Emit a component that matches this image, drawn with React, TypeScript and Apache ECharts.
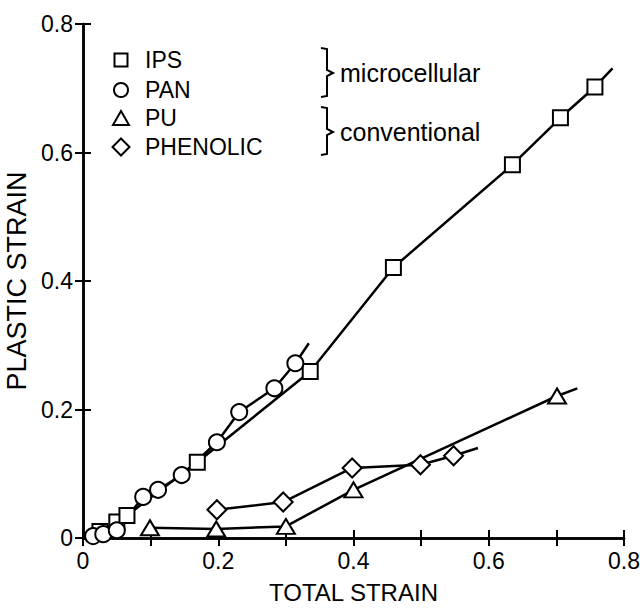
import React, { useEffect, useRef } from "react";
import * as echarts from "echarts";

// total strain, plastic strain
const ipsData: number[][] = [
  [0.025, 0.01], [0.05, 0.025], [0.065, 0.035], [0.169, 0.118], [0.336, 0.259],
  [0.459, 0.421], [0.635, 0.581], [0.706, 0.654], [0.757, 0.702],
];
const ipsTail: number[] = [0.783, 0.731];

const panData: number[][] = [
  [0.015, 0.003], [0.03, 0.006], [0.05, 0.012], [0.089, 0.064], [0.111, 0.075],
  [0.146, 0.098], [0.198, 0.149], [0.231, 0.196], [0.283, 0.233], [0.314, 0.272],
];
const panTail: number[] = [0.334, 0.303];

const puData: number[][] = [
  [0.099, 0.016], [0.197, 0.014], [0.3, 0.018], [0.4, 0.075], [0.701, 0.221],
];
const puTail: number[] = [0.731, 0.233];

const phenolicData: number[][] = [
  [0.198, 0.044], [0.296, 0.056], [0.398, 0.109], [0.499, 0.114], [0.548, 0.128],
];
const phenolicTail: number[] = [0.584, 0.14];

const legendNames = ["IPS", "PAN", "PU", "PHENOLIC"];
const groupNames = ["microcellular", "conventional"];
const axisMin = 0;
const axisMax = 0.8;

const FONT = "'Liberation Sans', 'DejaVu Sans', sans-serif";

function fmt(v: number): string {
  const t = Math.round(v * 10);
  if (t % 2 !== 0) return "";
  return t === 0 ? "0" : (t / 10).toFixed(1);
}

export default function App() {
  const ref = useRef<HTMLDivElement>(null);

  useEffect(() => {
    if (!ref.current) return;
    const chart = echarts.init(ref.current, null, { renderer: "svg" });

    const itemStyle = { color: "#fff", borderColor: "#000", borderWidth: 2 };
    const lineStyle = { color: "#000", width: 2.5 };
    const mk = (name: string, data: number[][], tail: number[], symbol: string, size: any) => ({
      type: "line",
      name,
      xAxisIndex: 0,
      yAxisIndex: 0,
      symbol,
      symbolSize: size,
      showAllSymbol: true,
      itemStyle,
      lineStyle,
      data: [...data.map((d) => ({ value: d })), { value: tail, symbol: "none" }],
    });

    const axisLine = { show: true, lineStyle: { color: "#000", width: 2.5 } };
    const axisTick = { show: true, inside: true, length: 8, lineStyle: { color: "#000", width: 2 } };
    const labelStyle = { color: "#000", fontSize: 23, fontFamily: FONT };

    const lx = 121;
    const ly = [60, 90, 118, 147];
    const sym = { fill: "#fff", stroke: "#000", lineWidth: 2 };

    chart.setOption({
      animation: false,
      backgroundColor: "#fff",
      grid: { left: 83, right: 16, top: 24, bottom: 71, containLabel: false, outerBoundsMode: "none" },
      xAxis: [
        {
          type: "value", min: axisMin, max: axisMax, interval: 0.1, position: "bottom",
          axisLine, axisTick, splitLine: { show: false },
          axisLabel: { ...labelStyle, margin: 11, formatter: fmt, showMinLabel: true, showMaxLabel: true },
          name: "TOTAL STRAIN", nameLocation: "middle", nameGap: 42,
          nameTextStyle: { color: "#000", fontSize: 24, fontFamily: FONT },
        },
        {
          type: "value", min: axisMin, max: axisMax, interval: 0.1, position: "top",
          axisLine, axisTick, splitLine: { show: false }, axisLabel: { show: false },
        },
      ],
      yAxis: [
        {
          type: "value", min: axisMin, max: axisMax, interval: 0.2, position: "left",
          axisLine, axisTick, splitLine: { show: false },
          axisLabel: { ...labelStyle, margin: 10, formatter: fmt },
          name: "PLASTIC STRAIN", nameLocation: "middle", nameGap: 49,
          nameTextStyle: { color: "#000", fontSize: 27, fontFamily: FONT },
        },
        {
          type: "value", min: axisMin, max: axisMax, interval: 0.2, position: "right",
          axisLine, axisTick, splitLine: { show: false }, axisLabel: { show: false },
        },
      ],
      series: [
        mk(legendNames[0], ipsData, ipsTail, "rect", 15),
        mk(legendNames[1], panData, panTail, "circle", 16),
        mk(legendNames[2], puData, puTail, "triangle", [18, 15]),
        mk(legendNames[3], phenolicData, phenolicTail, "diamond", [19, 19]),
      ],
      graphic: [
        { type: "rect", shape: { x: lx - 6.5, y: ly[0] - 6.5, width: 13, height: 13 }, style: sym },
        { type: "circle", shape: { cx: lx, cy: ly[1], r: 7 }, style: sym },
        { type: "polygon", shape: { points: [[lx, ly[2] - 7], [lx + 8, ly[2] + 7], [lx - 8, ly[2] + 7]] }, style: sym },
        { type: "polygon", shape: { points: [[lx, ly[3] - 8.5], [lx + 8.5, ly[3]], [lx, ly[3] + 8.5], [lx - 8.5, ly[3]]] }, style: sym },
        ...legendNames.map((n, i) => ({
          type: "text", x: 145, y: ly[i],
          style: { text: n, fill: "#000", fontSize: 23, fontFamily: FONT, verticalAlign: "middle", align: "left" },
        })),
        {
          type: "polyline",
          shape: { points: [[321, 48], [327, 49], [327, 70], [333, 73], [327, 76], [327, 96], [321, 97]] },
          style: { stroke: "#000", lineWidth: 2, fill: "none" },
        },
        {
          type: "polyline",
          shape: { points: [[321, 107], [327, 108], [327, 129], [333, 132], [327, 135], [327, 154], [321, 155]] },
          style: { stroke: "#000", lineWidth: 2, fill: "none" },
        },
        {
          type: "text", x: 340, y: 73,
          style: { text: groupNames[0], fill: "#000", fontSize: 25, fontFamily: FONT, verticalAlign: "middle", align: "left" },
        },
        {
          type: "text", x: 340, y: 132,
          style: { text: groupNames[1], fill: "#000", fontSize: 25, fontFamily: FONT, verticalAlign: "middle", align: "left" },
        },
      ],
    });

    return () => chart.dispose();
  }, []);

  return <div ref={ref} style={{ width: 640, height: 609, position: "absolute", left: 0, top: 0 }} />;
}
